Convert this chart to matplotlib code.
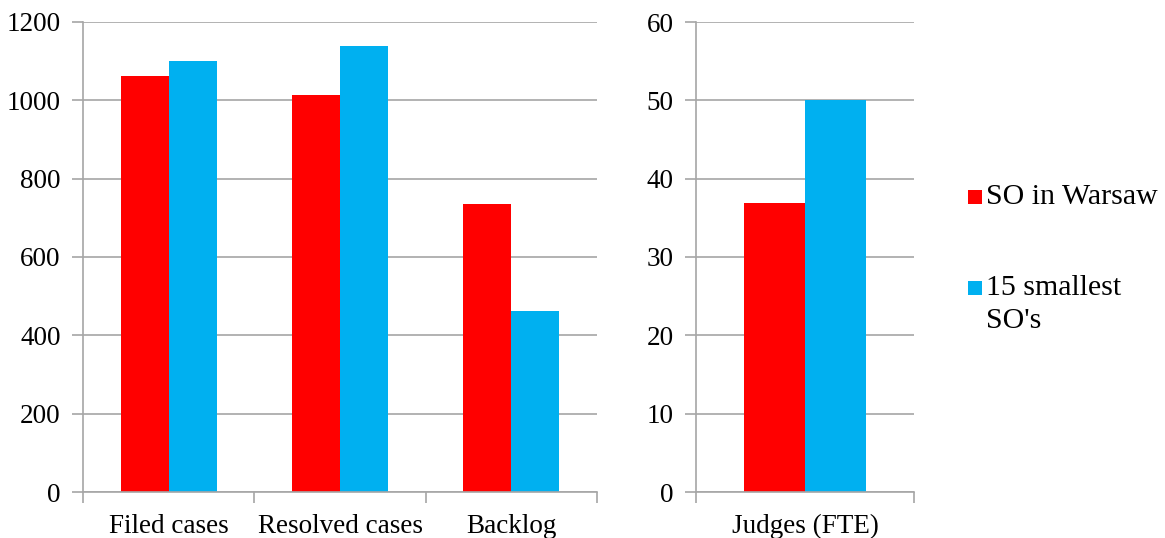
import matplotlib
matplotlib.use("Agg")
import matplotlib.pyplot as plt
from matplotlib.patches import Rectangle

# Case statistics per court group
categories = ["Filed cases", "Resolved cases", "Backlog"]
warsaw = [1062, 1013, 735]
smallest = [1100, 1138, 462]

judges_category = ["Judges (FTE)"]
judges_warsaw = [36.9]
judges_smallest = [50.1]

series_labels = ["SO in Warsaw", ["15 smallest", "SO's"]]
left_ticks = [0, 200, 400, 600, 800, 1000, 1200]
right_ticks = [0, 10, 20, 30, 40, 50, 60]

RED = "#FF0000"
BLUE = "#00B0F0"
GRID = "#A6A6A6"

plt.rcParams["font.family"] = ["Liberation Serif", "DejaVu Serif"]
FS = 19.5
LEG_FS = 21.5

W, H = 1165, 538
fig = plt.figure(figsize=(W / 100, H / 100), dpi=100)
ax1 = fig.add_axes([83 / W, 1 - 492 / H, 514 / W, 470 / H])
ax2 = fig.add_axes([696 / W, 1 - 492 / H, 218 / W, 470 / H])


def style(ax, n, ticks):
    ax.set_xlim(-0.5, n - 0.5)
    ax.set_ylim(ticks[0], ticks[-1])
    ax.set_yticks(ticks)
    ax.yaxis.grid(True, color=GRID, linewidth=1.2)
    ax.set_axisbelow(True)
    for s in ("top", "right"):
        ax.spines[s].set_visible(False)
    for s in ("left", "bottom"):
        ax.spines[s].set_color(GRID)
        ax.spines[s].set_linewidth(1.2)
    ax.tick_params(axis="y", direction="out", length=8, width=1.2,
                   color=GRID, labelsize=FS, pad=8)
    ax.tick_params(axis="x", which="major", length=0, labelsize=FS, pad=16)
    ax.set_xticks([i - 0.5 for i in range(n + 1)], minor=True)
    ax.tick_params(axis="x", which="minor", direction="out", length=8,
                   width=1.2, color=GRID)


w = 0.28
x1 = list(range(len(categories)))
ax1.bar([x - w / 2 for x in x1], warsaw, width=w, color=RED)
ax1.bar([x + w / 2 for x in x1], smallest, width=w, color=BLUE)
ax1.set_xticks(x1)
ax1.set_xticklabels(categories)
style(ax1, len(categories), left_ticks)

x2 = list(range(len(judges_category)))
ax2.bar([x - w / 2 for x in x2], judges_warsaw, width=w, color=RED)
ax2.bar([x + w / 2 for x in x2], judges_smallest, width=w, color=BLUE)
ax2.set_xticks(x2)
ax2.set_xticklabels(judges_category)
style(ax2, len(judges_category), right_ticks)

# Legend: square marker followed by the series name (second entry wraps)
sq = 14
entries = [(RED, series_labels[0], 197), (BLUE, series_labels[1], 288)]
for color, label, yc in entries:
    fig.patches.append(Rectangle((968 / W, 1 - (yc + sq / 2) / H), sq / W, sq / H,
                                 transform=fig.transFigure, facecolor=color,
                                 edgecolor="none"))
    lines = label if isinstance(label, list) else [label]
    for k, line in enumerate(lines):
        fig.text(986 / W, 1 - (yc + 33 * k) / H, line, fontsize=LEG_FS,
                 ha="left", va="center")

fig.savefig("out.png", dpi=100)
